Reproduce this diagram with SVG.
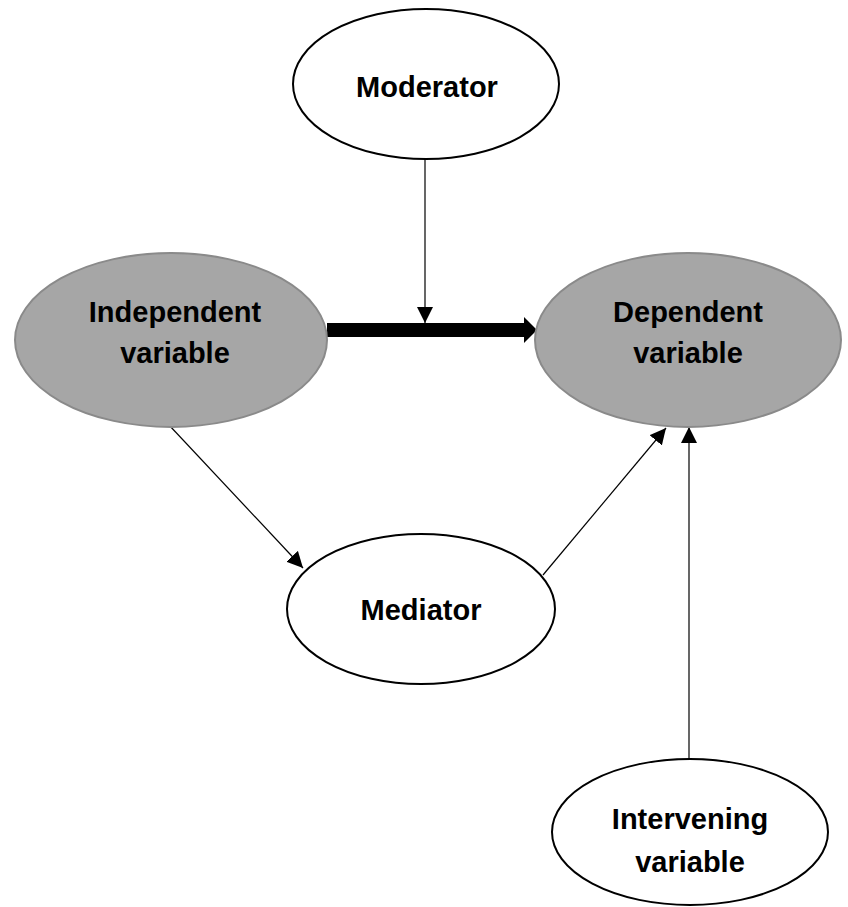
<svg xmlns="http://www.w3.org/2000/svg" width="848" height="907" viewBox="0 0 848 907">
<style>
.white{fill:#fff;stroke:#000;stroke-width:2}
.gray{fill:#a6a6a6;stroke:#8a8a8a;stroke-width:2}
.lbl{font-family:"Liberation Sans",Arial,sans-serif;font-weight:bold;font-size:29px;fill:#000;text-anchor:middle}
.thin{stroke:#000;stroke-width:1.2;fill:none;marker-end:url(#ah)}
</style>
<defs>
<marker id="ah" markerUnits="userSpaceOnUse" markerWidth="16" markerHeight="16" viewBox="0 0 14 14" refX="14" refY="7" orient="auto">
<path d="M0,0 L14,7 L0,14 Z" fill="#000"/>
</marker>
</defs>
<rect width="848" height="907" fill="#fff"/>
<g id="connectors">
<path d="M327,330 H524" stroke="#000" stroke-width="14" fill="none"/>
<path d="M524,317 L537,330 L524,343 Z" fill="#000"/>
<line class="thin" x1="425" y1="159" x2="425" y2="323"/>
<line class="thin" x1="169" y1="425" x2="303" y2="568"/>
<line class="thin" x1="543" y1="575" x2="666" y2="428"/>
<line class="thin" x1="689" y1="759" x2="689" y2="427"/>
</g>
<g id="moderator">
<ellipse class="white" cx="426" cy="84" rx="133" ry="75"/>
<text class="lbl" x="427" y="97">Moderator</text>
</g>
<g id="independent">
<ellipse class="gray" cx="171" cy="340" rx="156" ry="87"/>
<text class="lbl" x="175" y="322">Independent</text>
<text class="lbl" x="175" y="363">variable</text>
</g>
<g id="dependent">
<ellipse class="gray" cx="688" cy="340" rx="153" ry="87"/>
<text class="lbl" x="688" y="322">Dependent</text>
<text class="lbl" x="688" y="363">variable</text>
</g>
<g id="mediator">
<ellipse class="white" cx="421" cy="609" rx="134" ry="75"/>
<text class="lbl" x="421" y="620">Mediator</text>
</g>
<g id="intervening">
<ellipse class="white" cx="690" cy="832" rx="138" ry="73"/>
<text class="lbl" x="690" y="829">Intervening</text>
<text class="lbl" x="690" y="872">variable</text>
</g>
</svg>
